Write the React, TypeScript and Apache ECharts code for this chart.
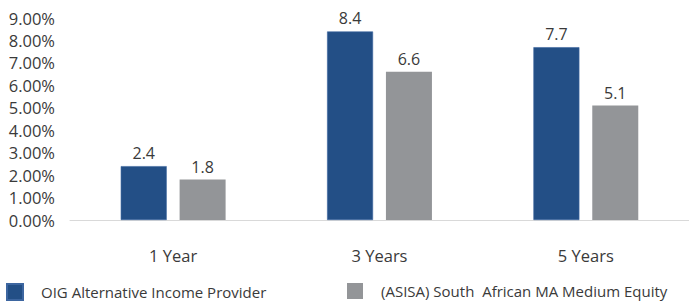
import React, { useEffect, useRef } from "react";
import * as echarts from "echarts";

const categories = ["1 Year", "3 Years", "5 Years"];
const oigValues = [2.4, 8.4, 7.7];
const asisaValues = [1.8, 6.6, 5.1];
const seriesNames = ["OIG Alternative Income Provider", "(ASISA) South  African MA Medium Equity"];
const yTicks = [0, 1, 2, 3, 4, 5, 6, 7, 8, 9];

export default function App() {
  const ref = useRef<HTMLDivElement>(null);
  useEffect(() => {
    const chart = echarts.init(ref.current!, null, { renderer: "svg" });
    const font = "'Open Sans', 'Segoe UI', sans-serif";
    const textColor = "#3a3a3a";
    const legendCommon = {
      top: 283,
      padding: 0,
      itemWidth: 16,
      itemHeight: 16,
      icon: "rect",
      textStyle: { fontFamily: font, fontSize: 15, color: textColor, padding: [0, 0, 0, 13] },
    };
    chart.setOption({
      animation: false,
      textStyle: { fontFamily: font },
      grid: { left: 70, right: -1, top: 18, bottom: 84, containLabel: false },
      legend: [
        { ...legendCommon, left: 6, data: [seriesNames[0]] },
        { ...legendCommon, left: 347, data: [seriesNames[1]] },
      ],
      xAxis: {
        type: "category",
        data: categories,
        axisLine: { lineStyle: { color: "#d9d9d9", width: 1 } },
        axisTick: { show: false },
        axisLabel: { fontFamily: font, fontSize: 16.5, color: textColor, margin: 27 },
      },
      yAxis: {
        type: "value",
        min: yTicks[0],
        max: yTicks[yTicks.length - 1],
        interval: 1,
        splitLine: { show: false },
        axisLine: { show: false },
        axisTick: { show: false },
        axisLabel: {
          fontFamily: font,
          fontSize: 16.5,
          color: textColor,
          margin: 15,
          formatter: (v: number) => v.toFixed(2) + "%",
        },
      },
      series: [
        {
          name: seriesNames[0],
          type: "bar",
          data: oigValues,
          barWidth: 46,
          barGap: "28%",
          itemStyle: { color: "#234f86", borderColor: "#3d66a0", borderWidth: 0.6 },
          label: { show: true, position: "top", distance: 5, fontFamily: font, fontSize: 16, color: textColor, formatter: (p: any) => p.value.toFixed(1) },
        },
        {
          name: seriesNames[1],
          type: "bar",
          data: asisaValues,
          barWidth: 46,
          itemStyle: { color: "#939598" },
          label: { show: true, position: "top", distance: 5, fontFamily: font, fontSize: 16, color: textColor, formatter: (p: any) => p.value.toFixed(1) },
        },
      ],
    });
    return () => chart.dispose();
  }, []);
  return <div ref={ref} style={{ position: "fixed", left: 0, top: 0, width: 689, height: 304, background: "#fff" }} />;
}
